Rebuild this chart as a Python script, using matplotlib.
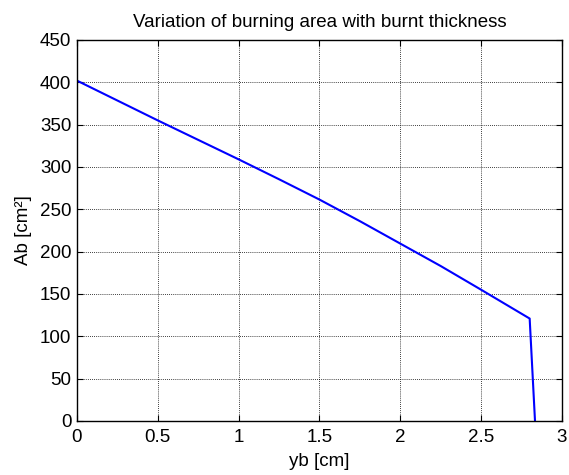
import matplotlib
matplotlib.use("Agg")
import matplotlib.pyplot as plt

# Burning area versus burnt web thickness
yb_cm = [0.0, 0.25, 0.5, 0.75, 1.0, 1.25, 1.5, 1.75, 2.0, 2.25, 2.5, 2.80, 2.833]
ab_cm2 = [402, 378.5, 355, 332, 309, 285.5, 261.5, 236, 209.5, 183, 155, 121, 0]

x_ticks = [0, 0.5, 1, 1.5, 2, 2.5, 3]
x_tick_labels = ["0", "0.5", "1", "1.5", "2", "2.5", "3"]
y_ticks = list(range(0, 451, 50))

plt.rcParams["font.family"] = ["Liberation Sans", "DejaVu Sans"]
fs = 13.5

fig = plt.figure(figsize=(5.69, 4.75), dpi=100)
ax = fig.add_axes([0.1353, 0.1137, 0.8524, 0.8021])

ax.plot(yb_cm, ab_cm2, color="#0000ff", linewidth=1.5)

ax.set_xlim(0, 3)
ax.set_ylim(0, 450)
ax.set_xticks(x_ticks)
ax.set_xticklabels(x_tick_labels)
ax.set_yticks(y_ticks)

ax.grid(True, color="black", linestyle=(0, (1, 1.5)), linewidth=0.6)
ax.tick_params(direction="in", top=True, right=True, length=4, width=0.8,
               labelsize=fs, colors="black", pad=4)
ax.tick_params(axis="x", pad=6)
for s in ax.spines.values():
    s.set_linewidth(1.0)
    s.set_color("black")

ax.set_title("Variation of burning area with burnt thickness", fontsize=fs, pad=9)
ax.set_xlabel("yb [cm]", fontsize=fs, labelpad=5)
ax.set_ylabel("Ab [cm²]", fontsize=fs, labelpad=6)

fig.savefig("out.png", dpi=100, facecolor="white")
